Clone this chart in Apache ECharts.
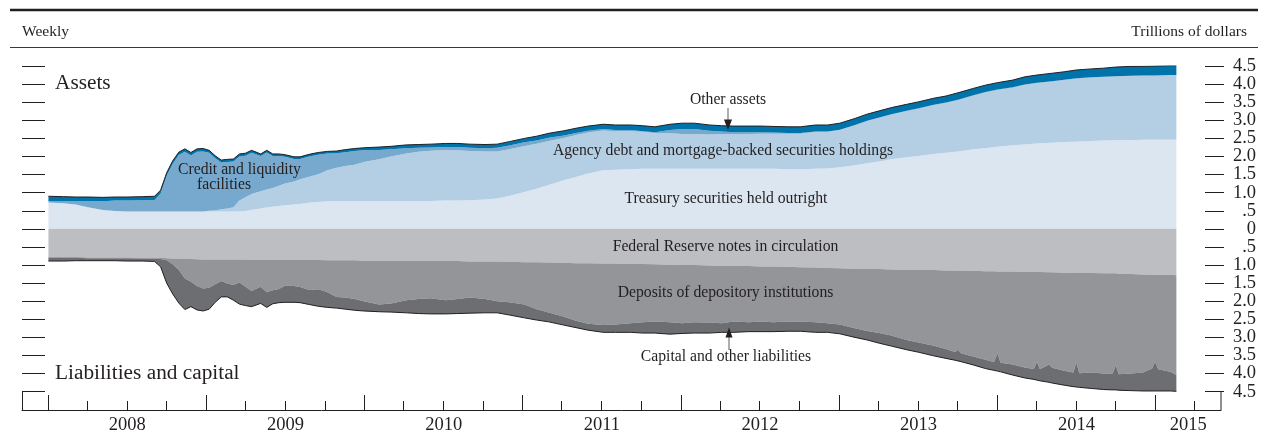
<!DOCTYPE html>
<html>
<head>
<meta charset="utf-8">
<script src="https://cdn.jsdelivr.net/npm/echarts@6/dist/echarts.min.js"></script>
<style>
  html, body { margin: 0; padding: 0; background: #fff; }
  #chart { width: 1266px; height: 437px; }
</style>
</head>
<body>
<div id="chart"></div>
<script>
// Federal Reserve balance sheet, trillions of dollars (weekly reporting dates, sampled)

// ---- Assets ----
const assetDates = [
  '2008-01-02','2008-02-06','2008-03-05','2008-04-02','2008-05-07','2008-06-04','2008-07-02','2008-08-06','2008-09-03','2008-09-17','2008-10-01','2008-10-15','2008-10-29','2008-11-12','2008-11-26','2008-12-10','2008-12-24',
  '2009-01-07','2009-01-21','2009-02-04','2009-02-18','2009-03-04','2009-03-18','2009-04-01','2009-04-15','2009-05-06','2009-05-20','2009-06-03','2009-06-17','2009-07-01','2009-07-22','2009-08-05','2009-08-26','2009-09-16','2009-10-07','2009-10-28','2009-11-18','2009-12-09','2009-12-30',
  '2010-02-03','2010-03-03','2010-04-07','2010-05-05','2010-06-02','2010-07-07','2010-08-04','2010-09-01','2010-10-06','2010-11-03','2010-12-01',
  '2011-01-05','2011-02-02','2011-03-02','2011-04-06','2011-05-04','2011-06-01','2011-07-06','2011-08-03','2011-09-07','2011-10-05','2011-11-02','2011-12-07',
  '2012-01-04','2012-02-01','2012-03-07','2012-04-04','2012-05-02','2012-06-06','2012-07-04','2012-08-01','2012-09-05','2012-10-03','2012-11-07','2012-12-05',
  '2013-01-02','2013-02-06','2013-03-06','2013-04-03','2013-05-01','2013-06-05','2013-07-03','2013-08-07','2013-09-04','2013-10-02','2013-11-06','2013-12-04',
  '2014-01-01','2014-02-05','2014-03-05','2014-04-02','2014-05-07','2014-06-04','2014-07-02','2014-08-06','2014-09-03','2014-10-01','2014-11-05','2014-12-03','2014-12-31',
  '2015-02-04','2015-02-18'
];
const treasurySecurities = [
  0.73,0.71,0.67,0.60,0.52,0.49,0.48,0.48,0.48,0.48,0.48,0.48,0.48,0.48,0.48,0.48,0.48,
  0.48,0.48,0.48,0.48,0.48,0.48,0.49,0.52,0.56,0.59,0.61,0.63,0.65,0.67,0.69,0.72,0.74,0.76,0.77,0.77,0.77,0.77,
  0.77,0.77,0.77,0.77,0.77,0.78,0.78,0.79,0.81,0.84,0.91,
  1.02,1.11,1.21,1.34,1.43,1.53,1.62,1.63,1.65,1.66,1.66,1.66,
  1.66,1.66,1.66,1.66,1.66,1.66,1.66,1.66,1.65,1.65,1.66,1.67,
  1.70,1.76,1.81,1.86,1.92,1.98,2.01,2.07,2.10,2.14,2.20,2.23,
  2.27,2.31,2.33,2.36,2.38,2.40,2.41,2.43,2.44,2.45,2.45,2.46,2.46,
  2.46,2.46
];
const agencyAndMbs = [
  0,0,0,0,0,0,0,0,0,0,0,0,0,0,0,0,0,
  0.02,0.03,0.06,0.08,0.12,0.30,0.38,0.44,0.48,0.50,0.52,0.56,0.60,0.64,0.68,0.72,0.77,0.86,0.92,0.97,1.00,1.08,
  1.15,1.23,1.31,1.36,1.39,1.40,1.39,1.36,1.33,1.30,1.29,
  1.27,1.24,1.22,1.17,1.16,1.13,1.10,1.07,1.05,1.02,0.99,0.98,
  0.96,0.96,0.95,0.96,0.96,0.96,0.97,0.97,0.98,0.98,1.02,1.01,
  1.03,1.10,1.17,1.21,1.24,1.27,1.31,1.35,1.38,1.42,1.48,1.54,
  1.57,1.59,1.65,1.67,1.69,1.71,1.74,1.75,1.76,1.77,1.78,1.78,1.78,
  1.79,1.79
];
const creditFacilities = [
  0.04,0.06,0.09,0.17,0.24,0.29,0.30,0.31,0.32,0.50,0.99,1.32,1.56,1.65,1.55,1.65,1.66,
  1.60,1.44,1.29,1.29,1.26,1.22,1.15,1.14,0.97,1.02,0.88,0.82,0.74,0.62,0.56,0.56,0.54,0.46,0.40,0.38,0.38,0.32,
  0.26,0.20,0.15,0.11,0.09,0.08,0.09,0.09,0.09,0.10,0.10,
  0.10,0.09,0.09,0.07,0.06,0.05,0.04,0.03,0.03,0.02,0.02,0.09,
  0.14,0.14,0.10,0.07,0.05,0.05,0.04,0.03,0.02,0.02,0.01,0.01,
  0.01,0.01,0.01,0.01,0.01,0.01,0.01,0.01,0.01,0.01,0.01,0.01,
  0.01,0.01,0.01,0.01,0.01,0.01,0.01,0.01,0,0,0,0,0,
  0,0
];
const otherAssets = [
  0.13,0.12,0.12,0.11,0.11,0.10,0.10,0.10,0.10,0.09,0.08,0.08,0.08,0.08,0.08,0.08,0.08,
  0.07,0.07,0.07,0.07,0.07,0.07,0.07,0.07,0.06,0.06,0.06,0.06,0.06,0.06,0.06,0.06,0.06,0.06,0.06,0.07,0.07,0.07,
  0.08,0.08,0.09,0.09,0.09,0.10,0.10,0.10,0.10,0.10,0.11,
  0.11,0.12,0.12,0.13,0.13,0.13,0.13,0.14,0.14,0.15,0.15,0.16,
  0.16,0.16,0.16,0.16,0.17,0.17,0.17,0.17,0.17,0.17,0.18,0.18,
  0.18,0.18,0.18,0.18,0.18,0.18,0.18,0.18,0.18,0.19,0.19,0.19,
  0.19,0.20,0.21,0.21,0.22,0.22,0.23,0.23,0.24,0.25,0.26,0.25,0.26,
  0.26,0.26
];

// ---- Liabilities and capital (amounts, drawn below zero) ----
const liabilityDates = [
  '2008-01-02','2008-02-06','2008-03-05','2008-04-02','2008-05-07','2008-06-04','2008-07-02','2008-08-06','2008-09-03','2008-09-17','2008-10-01','2008-10-15','2008-10-29','2008-11-12','2008-11-26','2008-12-10','2008-12-24',
  '2009-01-07','2009-01-21','2009-02-04','2009-02-18','2009-03-04','2009-03-18','2009-04-01','2009-04-15','2009-05-06','2009-05-20','2009-06-03','2009-06-17','2009-07-01','2009-07-22','2009-08-05','2009-08-26','2009-09-16','2009-10-07','2009-10-28','2009-11-18','2009-12-09','2009-12-30',
  '2010-02-03','2010-03-03','2010-04-07','2010-05-05','2010-06-02','2010-07-07','2010-08-04','2010-09-01','2010-10-06','2010-11-03','2010-12-01',
  '2011-01-05','2011-02-02','2011-03-02','2011-04-06','2011-05-04','2011-06-01','2011-07-06','2011-08-03','2011-09-07','2011-10-05','2011-11-02','2011-12-07',
  '2012-01-04','2012-02-01','2012-03-07','2012-04-04','2012-05-02','2012-06-06','2012-07-04','2012-08-01','2012-09-05','2012-10-03','2012-11-07','2012-12-05',
  '2013-01-02','2013-02-06','2013-03-06','2013-04-03','2013-05-01','2013-06-05','2013-07-03','2013-08-07','2013-09-04','2013-09-25','2013-10-02','2013-10-09','2013-11-06','2013-12-04','2013-12-24',
  '2014-01-01','2014-01-08','2014-02-05','2014-03-05','2014-03-26','2014-04-02','2014-04-09','2014-04-30','2014-05-07','2014-06-04','2014-06-25','2014-07-02','2014-07-09','2014-08-06','2014-09-03','2014-09-24','2014-10-01','2014-10-08','2014-11-05','2014-12-03','2014-12-24','2014-12-31',
  '2015-01-07','2015-02-04','2015-02-18'
];
const reserveNotes = [
  0.78,0.78,0.78,0.79,0.79,0.79,0.79,0.80,0.80,0.80,0.81,0.82,0.82,0.83,0.83,0.84,0.85,
  0.85,0.85,0.85,0.85,0.85,0.85,0.85,0.86,0.86,0.86,0.86,0.86,0.86,0.86,0.86,0.86,0.86,0.87,0.87,0.87,0.87,0.88,
  0.88,0.88,0.88,0.88,0.89,0.89,0.89,0.90,0.90,0.90,0.91,
  0.92,0.92,0.93,0.94,0.95,0.95,0.96,0.96,0.97,0.97,0.98,0.99,
  1.00,1.00,1.01,1.02,1.03,1.03,1.04,1.04,1.05,1.06,1.07,1.08,
  1.09,1.10,1.11,1.11,1.12,1.13,1.13,1.14,1.15,1.15,1.15,1.15,1.16,1.17,1.17,
  1.18,1.18,1.18,1.19,1.19,1.19,1.19,1.20,1.20,1.21,1.21,1.22,1.22,1.22,1.23,1.23,1.23,1.24,1.25,1.26,1.27,1.27,
  1.27,1.27,1.28
];
const depositoryDeposits = [
  0.02,0.02,0.02,0.02,0.02,0.02,0.02,0.02,0.02,0.03,0.06,0.16,0.32,0.54,0.63,0.74,0.80,
  0.78,0.68,0.59,0.66,0.70,0.63,0.75,0.86,0.74,0.89,0.84,0.80,0.71,0.72,0.75,0.83,0.81,0.88,1.01,1.03,1.07,1.12,
  1.21,1.18,1.09,1.06,1.03,1.08,1.05,1.00,1.04,1.10,1.12,
  1.17,1.30,1.38,1.49,1.59,1.67,1.70,1.68,1.64,1.61,1.58,1.59,
  1.61,1.58,1.58,1.59,1.53,1.55,1.52,1.54,1.51,1.50,1.51,1.53,
  1.55,1.65,1.71,1.77,1.83,1.94,2.01,2.09,2.17,2.25,2.19,2.29,2.37,2.45,2.51,
  2.26,2.52,2.57,2.64,2.68,2.48,2.69,2.55,2.64,2.71,2.76,2.47,2.77,2.75,2.77,2.77,2.53,2.78,2.75,2.71,2.59,2.40,
  2.61,2.68,2.76
];
const capitalAndOther = [
  0.09,0.09,0.08,0.07,0.07,0.07,0.08,0.07,0.08,0.22,0.63,0.82,0.91,0.86,0.69,0.66,0.62,
  0.59,0.50,0.44,0.37,0.42,0.60,0.52,0.43,0.46,0.42,0.37,0.38,0.46,0.45,0.43,0.40,0.47,0.42,0.31,0.32,0.31,0.27,
  0.20,0.24,0.35,0.40,0.43,0.38,0.40,0.43,0.38,0.32,0.35,
  0.37,0.30,0.26,0.23,0.19,0.18,0.20,0.22,0.25,0.30,0.32,0.33,
  0.28,0.30,0.29,0.25,0.30,0.26,0.28,0.26,0.27,0.27,0.28,0.25,
  0.26,0.25,0.25,0.28,0.29,0.27,0.27,0.28,0.26,0.23,0.31,0.23,0.23,0.24,0.23,
  0.49,0.25,0.29,0.29,0.29,0.51,0.32,0.49,0.42,0.40,0.39,0.68,0.39,0.44,0.44,0.45,0.69,0.44,0.47,0.51,0.62,0.81,
  0.60,0.53,0.45
];

// ---- Axis labels ----
const yearLabels = ['2008','2009','2010','2011','2012','2013','2014','2015'];
const valueTicks = [-4.5, 4.5, 0.5];                  // min, max, step
const wholeTicks = [-4, -3, -2, -1, 0, 1, 2, 3, 4];   // labelled on their own scale so neighbours never collide

// ---- Drawing ----
const FONT = '"Liberation Serif", "Times New Roman", serif';
const INK = '#231f20';
const COLORS = {
  treasury: '#dce6f1', agency: '#b4cfe4', credit: '#77a8cd', other: '#0073aa',
  notes: '#bcbec1', deposits: '#939598', capital: '#6d6e71'
};

function stamp(s) {
  const p = s.split('-').map(Number);
  return +new Date(p[0], p[1] - 1, p[2]);
}
const xMin = +new Date(2007, 10, 2);
const xMax = +new Date(2015, 5, 1);
const quarterTicks = [];
const yearTicks = [];
const yearLabelPos = [];
yearLabels.forEach(function (ys) {
  const y = +ys;
  yearTicks.push(+new Date(y, 0, 1));
  for (let m = 0; m < 12; m += 3) {
    const t = +new Date(y, m, 1);
    if (t < xMax) quarterTicks.push(t);
  }
  const start = +new Date(y, 0, 1);
  const end = Math.min(+new Date(y + 1, 0, 1), xMax);
  yearLabelPos.push((start + end) / 2);
});

function areaSeries(name, dates, values, sign, stack, color, outlined) {
  return {
    name: name, type: 'line', stack: stack,
    xAxisIndex: 0, yAxisIndex: 0,
    data: dates.map(function (d, i) { return [stamp(d), sign * values[i]]; }),
    symbol: 'none', showSymbol: false, silent: true,
    lineStyle: outlined ? { color: INK, width: 1 } : { width: 0, opacity: 0 },
    areaStyle: { color: color, opacity: 1 },
    emphasis: { disabled: true }
  };
}

function txt(text, x, y, size, align) {
  return {
    type: 'text', x: x, y: y, z: 100, silent: true,
    style: { text: text, fill: INK, font: size + 'px ' + FONT, align: align || 'center', verticalAlign: 'middle' }
  };
}
function seg(x1, y1, x2, y2, w, c) {
  return { type: 'line', z: 100, silent: true, shape: { x1: x1, y1: y1, x2: x2, y2: y2 }, style: { stroke: c || INK, lineWidth: w || 1 } };
}

const tickLabel = function (v) {
  const a = Math.abs(v);
  if (a < 1e-9) return '0';
  const s = a.toFixed(1);
  return a < 1 ? s.replace(/^0/, '') : s;
};

function rightAxis(extra) {
  return Object.assign({
    type: 'value', min: valueTicks[0], max: valueTicks[1], position: 'right', offset: 3,
    axisLine: { show: false, onZero: false },
    axisTick: { show: true, inside: true, length: 19, lineStyle: { color: INK, width: 1 } },
    axisLabel: {
      show: true, margin: 32, align: 'right', formatter: tickLabel, showMinLabel: true, showMaxLabel: true,
      fontFamily: FONT, fontSize: 18.5, color: INK
    },
    splitLine: { show: false }
  }, extra);
}

const chart = echarts.init(document.getElementById('chart'), null, { renderer: 'canvas' });
chart.setOption({
  animation: false,
  backgroundColor: '#ffffff',
  grid: { left: 22, right: 45, top: 66, bottom: 45.3, containLabel: false },
  xAxis: [
    // time scale carrying the areas
    { type: 'time', min: xMin, max: xMax, show: false },
    // quarter ticks, axis line and year labels
    {
      type: 'value', min: xMin, max: xMax, position: 'bottom', offset: 18.3,
      axisLine: { show: true, onZero: false, lineStyle: { color: INK, width: 1 } },
      axisTick: { show: true, inside: true, length: 9, customValues: quarterTicks, lineStyle: { color: INK, width: 1 } },
      axisLabel: {
        show: true, customValues: yearLabelPos, margin: 6,
        formatter: function (v) { return String(new Date(v).getFullYear()); },
        fontFamily: FONT, fontSize: 18.5, color: INK
      },
      splitLine: { show: false }, minorTick: { show: false }
    },
    // taller year ticks
    {
      type: 'value', min: xMin, max: xMax, position: 'bottom', offset: 18.3,
      axisLine: { show: false, onZero: false },
      axisTick: { show: true, inside: true, length: 15, customValues: yearTicks, lineStyle: { color: INK, width: 1 } },
      axisLabel: { show: false },
      splitLine: { show: false }
    }
  ],
  yAxis: [
    {
      type: 'value', min: valueTicks[0], max: valueTicks[1], interval: valueTicks[2], position: 'left',
      axisLine: { show: false, onZero: false },
      axisTick: { show: true, inside: true, length: 23, lineStyle: { color: INK, width: 1 } },
      axisLabel: { show: false },
      splitLine: { show: false }
    },
    // half-step ticks: 4.5, 3.5 ... .5 on both sides
    rightAxis({ interval: 2 * valueTicks[2] }),
    // whole-number ticks: 4.0, 3.0 ... 0
    rightAxis({
      axisTick: { show: true, inside: true, length: 19, customValues: wholeTicks, lineStyle: { color: INK, width: 1 } },
      axisLabel: {
        show: true, margin: 32, align: 'right', formatter: tickLabel, customValues: wholeTicks,
        fontFamily: FONT, fontSize: 18.5, color: INK
      }
    })
  ],
  series: [
    areaSeries('Treasury securities held outright', assetDates, treasurySecurities, 1, 'assets', COLORS.treasury, false),
    areaSeries('Agency debt and mortgage-backed securities holdings', assetDates, agencyAndMbs, 1, 'assets', COLORS.agency, false),
    areaSeries('Credit and liquidity facilities', assetDates, creditFacilities, 1, 'assets', COLORS.credit, false),
    areaSeries('Other assets', assetDates, otherAssets, 1, 'assets', COLORS.other, true),
    areaSeries('Federal Reserve notes in circulation', liabilityDates, reserveNotes, -1, 'liabilities', COLORS.notes, false),
    areaSeries('Deposits of depository institutions', liabilityDates, depositoryDeposits, -1, 'liabilities', COLORS.deposits, false),
    areaSeries('Capital and other liabilities', liabilityDates, capitalAndOther, -1, 'liabilities', COLORS.capital, true)
  ],
  graphic: [
    seg(10, 10, 1258, 10, 2.5),
    seg(10, 47.5, 1258, 47.5, 1, '#3a3a3a'),
    txt('Weekly', 22, 32, 15.5, 'left'),
    txt('Trillions of dollars', 1247, 32, 15.5, 'right'),
    txt('Assets', 55, 83, 21.3, 'left'),
    txt('Liabilities and capital', 55, 373, 21.3, 'left'),
    // frame stubs between the lowest tick and the time axis
    seg(22.5, 391.7, 22.5, 410, 1),
    seg(1221, 391.7, 1221, 410, 1),
    // area labels
    txt('Credit and liquidity', 178, 170, 15.7, 'left'),
    txt('facilities', 197, 185, 15.7, 'left'),
    txt('Other assets', 728, 100, 15.7, 'center'),
    txt('Agency debt and mortgage-backed securities holdings', 723, 151, 15.7, 'center'),
    txt('Treasury securities held outright', 726, 198.5, 15.7, 'center'),
    txt('Federal Reserve notes in circulation', 725.5, 246.5, 15.7, 'center'),
    txt('Deposits of depository institutions', 725.5, 292.5, 15.7, 'center'),
    txt('Capital and other liabilities', 726, 356.5, 15.7, 'center'),
    // pointer arrows
    seg(728, 108, 728, 121, 1.2, '#77787b'),
    { type: 'polygon', z: 100, silent: true, shape: { points: [[724, 119.5], [732, 119.5], [728, 130]] }, style: { fill: INK } },
    seg(729, 336, 729, 350, 1.2, '#77787b'),
    { type: 'polygon', z: 100, silent: true, shape: { points: [[725.5, 337.5], [732.5, 337.5], [729, 327.5]] }, style: { fill: INK } }
  ]
});
</script>
</body>
</html>
